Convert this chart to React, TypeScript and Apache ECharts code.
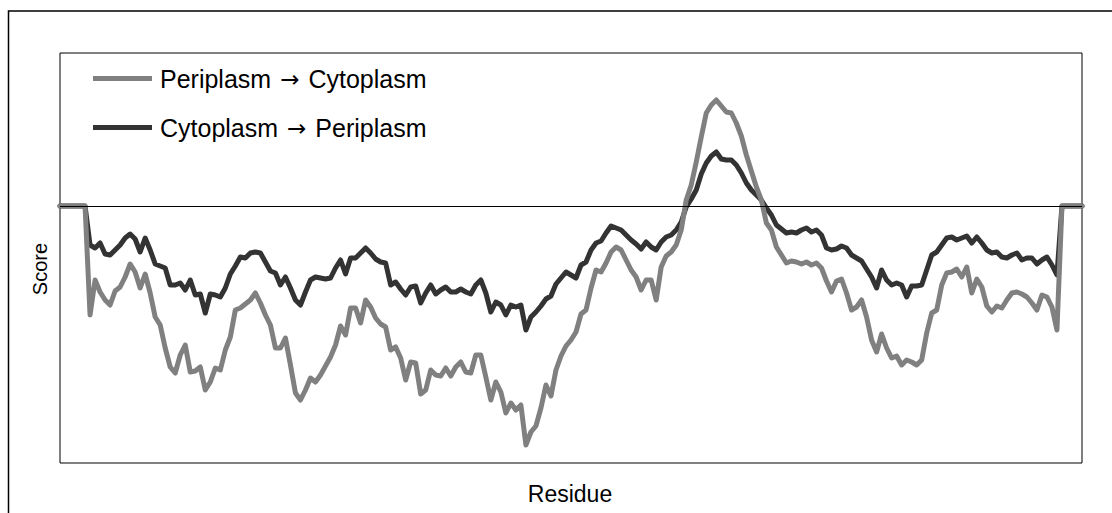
import React, { useEffect, useRef } from "react";
import * as echarts from "echarts";

const residues: number[] = Array.from({ length: 205 }, (_, i) => i);

const periplasmToCytoplasm: number[] = [
  0, 0, 0, 0, 0, 0,
  -10.9, -7.4, -8.6, -9.4, -9.9, -8.5, -8.1, -7.1, -5.8, -6.6,
  -8.2, -6.8, -8.7, -11.1, -11.9, -14.2, -16.1, -16.7, -14.9, -13.9,
  -16.6, -16.5, -16.1, -18.4, -17.6, -16.2, -16.4, -14.4, -13.1, -10.4,
  -10.2, -9.8, -9.4, -8.7, -9.7, -10.9, -11.9, -14.2, -14.2, -13.2,
  -15.9, -18.7, -19.4, -18.4, -17.2, -17.6, -16.9, -16.0, -15.1, -13.9,
  -12.0, -12.9, -10.2, -10.2, -11.7, -9.4, -10.1, -11.2, -11.8, -12.1,
  -14.4, -14.1, -15.2, -17.4, -15.6, -15.7, -18.8, -18.4, -16.4, -16.9,
  -17.0, -16.2, -17.0, -16.1, -15.6, -16.6, -16.7, -14.9, -14.9, -17.1,
  -19.4, -17.6, -18.6, -20.7, -19.7, -20.4, -19.9, -23.9, -22.6, -22.0,
  -20.2, -17.9, -19.0, -16.4, -15.0, -14.0, -13.4, -12.6, -10.8, -10.4,
  -8.2, -6.4, -6.6, -5.7, -4.6, -4.1, -4.4, -5.4, -6.4, -7.1,
  -8.4, -7.4, -7.4, -9.4, -6.1, -5.0, -4.6, -3.9, -2.4, 0.6,
  2.1, 4.4, 6.9, 9.3, 10.1, 10.6, 10.0, 9.4, 9.3, 8.3,
  7.0, 5.1, 3.5, 1.9, 0.6, -1.7, -2.4, -4.1, -4.9, -5.7,
  -5.5, -5.6, -5.8, -5.6, -5.9, -5.7, -6.2, -7.5, -8.6, -7.5,
  -7.3, -8.7, -10.4, -10.1, -9.4, -11.1, -13.4, -14.6, -12.8, -14.2,
  -15.2, -15.0, -15.9, -15.4, -15.6, -15.9, -15.4, -12.7, -10.7, -10.4,
  -7.9, -6.7, -6.6, -6.3, -7.1, -6.1, -8.7, -7.3, -8.1, -10.0,
  -10.6, -10.0, -10.2, -9.4, -8.7, -8.6, -8.8, -9.1, -9.7, -10.4,
  -8.9, -9.1, -10.1, -12.4,
  0, 0, 0, 0, 0,
];

const cytoplasmToPeriplasm: number[] = [
  0, 0, 0, 0, 0, 0,
  -3.9, -4.2, -3.7, -4.8, -4.9, -4.4, -3.9, -3.2, -2.8, -3.3,
  -4.6, -3.2, -4.4, -5.8, -6.0, -6.2, -7.9, -7.9, -7.7, -8.4,
  -7.4, -8.9, -8.8, -10.7, -8.8, -8.9, -9.1, -8.2, -6.8, -6.0,
  -5.1, -5.2, -4.7, -4.6, -4.7, -5.6, -6.5, -6.7, -7.9, -7.1,
  -8.2, -9.4, -9.9, -8.6, -7.4, -7.1, -7.2, -7.3, -7.2, -6.2,
  -5.4, -6.8, -5.2, -5.2, -4.7, -4.2, -4.7, -5.3, -5.6, -5.7,
  -7.9, -7.6, -8.3, -8.9, -8.1, -8.0, -9.7, -8.7, -7.9, -8.8,
  -8.4, -8.1, -8.6, -8.6, -8.3, -8.6, -8.8, -7.9, -7.4, -8.7,
  -10.6, -9.6, -9.9, -10.9, -9.9, -10.1, -9.9, -12.4, -11.1, -10.6,
  -10.0, -9.3, -9.0, -7.8, -7.2, -6.6, -6.9, -7.2, -5.9, -5.6,
  -4.4, -3.7, -3.5, -2.7, -2.0, -2.2, -2.4, -2.9, -3.4, -3.8,
  -4.3, -3.6, -4.1, -4.4, -3.6, -3.1, -2.9, -2.4, -1.6, -0.1,
  0.7, 1.6, 3.2, 4.3, 5.0, 5.4, 4.7, 4.6, 4.6, 4.1,
  3.3, 2.3, 1.6, 1.1, 0.6, -0.2, -0.9, -1.9, -2.3, -2.7,
  -2.6, -2.7, -2.4, -2.2, -2.6, -2.4, -2.9, -4.2, -4.4, -4.3,
  -4.0, -4.2, -4.9, -5.2, -5.5, -6.3, -7.1, -8.2, -6.4, -7.4,
  -7.9, -7.7, -7.9, -9.1, -8.0, -8.0, -7.9, -6.4, -4.9, -4.6,
  -3.9, -3.2, -3.1, -3.4, -3.2, -3.0, -3.7, -3.1, -3.7, -4.4,
  -4.7, -4.6, -5.1, -5.2, -4.9, -4.7, -5.4, -5.2, -5.2, -5.8,
  -5.4, -5.1, -5.9, -6.9,
  0, 0, 0, 0, 0,
];

const seriesNames: string[] = ["Periplasm \u2192 Cytoplasm", "Cytoplasm \u2192 Periplasm"];
const axisNames: string[] = ["Residue", "Score"];
const scoreRange: number[] = [-25.7, 15.3];

const FONT = "'Liberation Sans', Arial, sans-serif";

export default function App() {
  const ref = useRef<HTMLDivElement>(null);
  useEffect(() => {
    if (!ref.current) return;
    const chart = echarts.init(ref.current, undefined, { renderer: "svg" });
    chart.setOption({
      animation: false,
      backgroundColor: "#ffffff",
      textStyle: { fontFamily: FONT },
      grid: {
        left: 60,
        right: 30,
        top: 53,
        bottom: 50,
        show: true,
        borderColor: "#000000",
        borderWidth: 1,
        backgroundColor: "transparent",
      },
      legend: {
        orient: "vertical",
        left: 93,
        top: 66,
        padding: 0,
        itemGap: 24,
        itemWidth: 59,
        itemHeight: 5,
        icon: "rect",
        data: [seriesNames[0], seriesNames[1]],
        formatter: (name: string) => {
          const parts = name.split(" \u2192 ");
          return "{n|" + parts[0] + "}{s| }{a|\u2192}{s| }{n|" + parts[1] + "}";
        },
        textStyle: {
          fontSize: 25,
          color: "#000000",
          fontFamily: FONT,
          padding: [0, 0, 0, 3],
          rich: {
            n: { fontSize: 25, fontFamily: FONT, color: "#000000" },
            s: { fontSize: 25, fontFamily: FONT, color: "#000000", width: 9 },
            a: { fontSize: 23, fontFamily: "'DejaVu Sans', sans-serif", color: "#000000" },
          },
        },
      },
      xAxis: {
        type: "category",
        data: residues.map(String),
        boundaryGap: false,
        axisLine: { show: false },
        axisTick: { show: false },
        axisLabel: { show: false },
        splitLine: { show: false },
      },
      yAxis: {
        type: "value",
        min: scoreRange[0],
        max: scoreRange[1],
        axisLine: { show: false },
        axisTick: { show: false },
        axisLabel: { show: false },
        splitLine: { show: false },
      },
      graphic: [
        {
          type: "rect",
          shape: { x: 8.5, y: 11, width: 1200, height: 700 },
          style: { fill: "none", stroke: "#000000", lineWidth: 1.5 },
          silent: true,
        },
        {
          type: "text",
          x: 570,
          y: 494,
          style: {
            text: axisNames[0],
            fontSize: 23,
            fontFamily: FONT,
            fill: "#000000",
            textAlign: "center",
            textVerticalAlign: "middle",
          },
        },
        {
          type: "text",
          x: 40,
          y: 269,
          rotation: Math.PI / 2,
          style: {
            text: axisNames[1],
            fontSize: 20,
            fontFamily: FONT,
            fill: "#000000",
            textAlign: "center",
            textVerticalAlign: "middle",
          },
        },
      ],
      series: [
        {
          name: seriesNames[1],
          type: "line",
          data: cytoplasmToPeriplasm,
          showSymbol: false,
          symbol: "none",
          z: 2,
          itemStyle: { color: "#333333" },
          lineStyle: { color: "#333333", width: 5, join: "round", cap: "round" },
          markLine: {
            silent: true,
            symbol: "none",
            label: { show: false },
            lineStyle: { color: "#000000", width: 1, type: "solid" },
            data: [{ yAxis: 0 }],
          },
        },
        {
          name: seriesNames[0],
          type: "line",
          data: periplasmToCytoplasm,
          showSymbol: false,
          symbol: "none",
          z: 3,
          itemStyle: { color: "#808080" },
          lineStyle: { color: "#808080", width: 5, join: "round", cap: "round" },
        },
      ],
    });
    return () => chart.dispose();
  }, []);
  return (
    <div
      ref={ref}
      style={{ position: "absolute", left: 0, top: 0, width: 1112, height: 513 }}
    />
  );
}
